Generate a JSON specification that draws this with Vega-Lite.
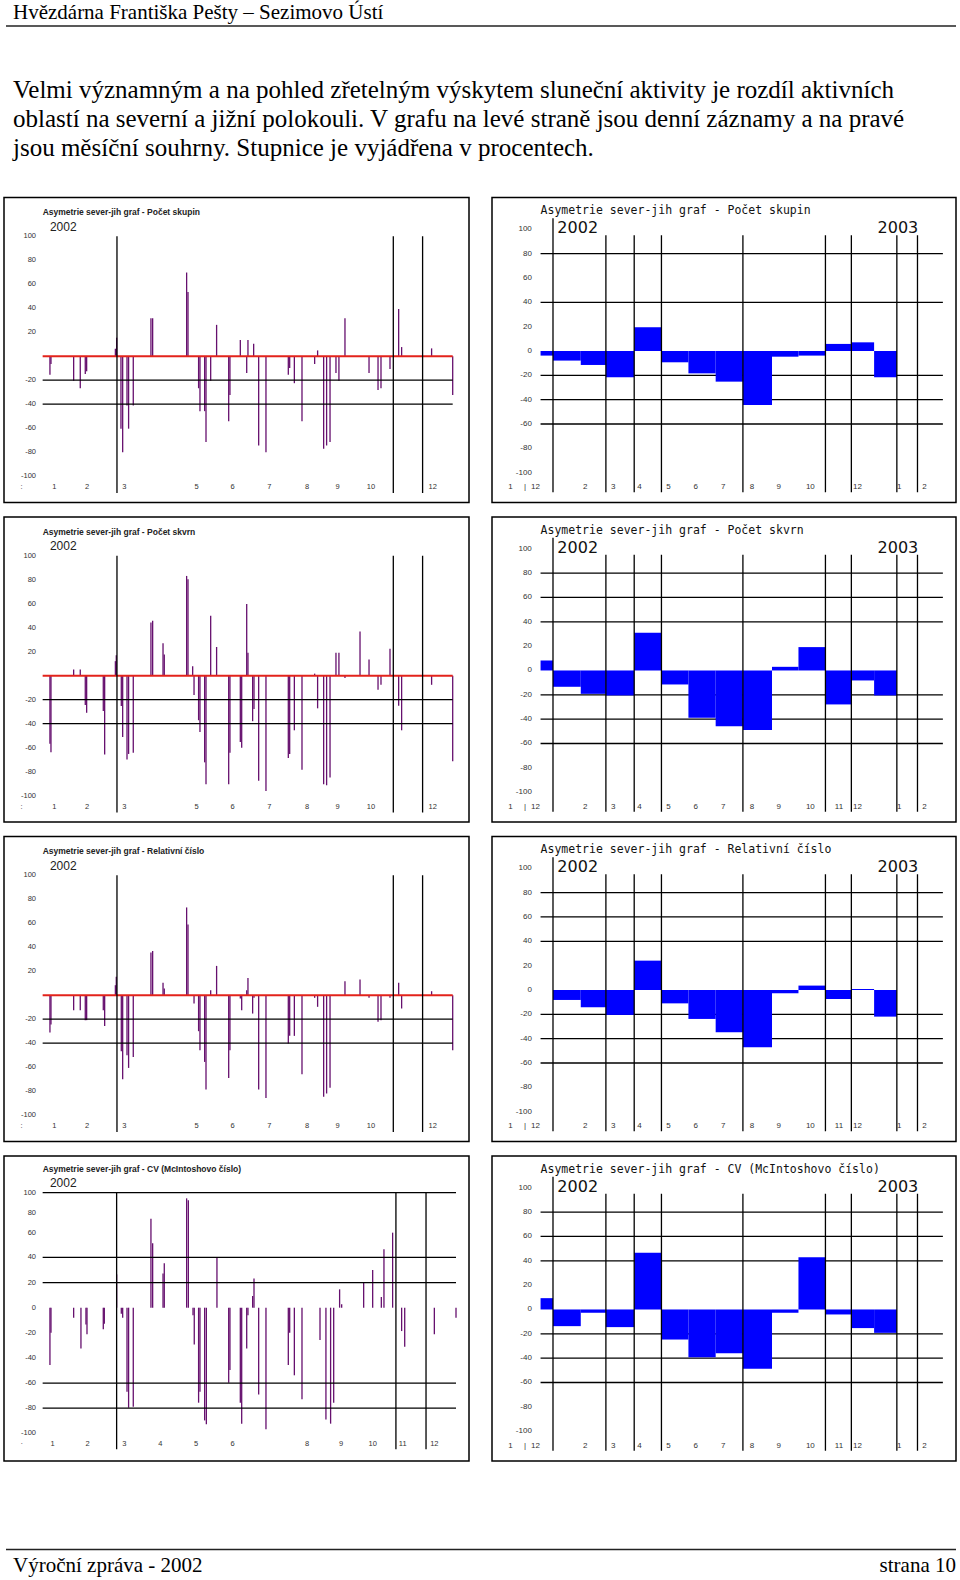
{
"$schema": "https://vega.github.io/schema/vega-lite/v6.json",
"background": "white",
"padding": {"left": 3, "top": 0, "right": 5, "bottom": 0},
"config": {"view": {"stroke": null}},
"spacing": 12.5,
"datasets": {
"L1": [{"d":6.1,"v":-15.4},{"d":7.0,"v":-6.5},{"d":26.9,"v":-20.5},{"d":32.7,"v":-26.7},{"d":37.1,"v":-14.9},{"d":38.3,"v":-12.6},{"d":63.5,"v":6.2},{"d":64.6,"v":15.4},{"d":68.4,"v":-60.4},{"d":69.9,"v":-80.1},{"d":73.7,"v":-41},{"d":75.1,"v":-60.4},{"d":79.2,"v":-41},{"d":94.7,"v":31.7},{"d":96.2,"v":31.7},{"d":126,"v":69.7},{"d":127.2,"v":53.4},{"d":136.5,"v":-26.7},{"d":137.7,"v":-45.8},{"d":141.8,"v":-45.8},{"d":143,"v":-71.6},{"d":147.1,"v":-20.5},{"d":152.3,"v":26.1},{"d":162.9,"v":-54.2},{"d":164,"v":-32.3},{"d":173.1,"v":13.5},{"d":178.7,"v":-14},{"d":179.8,"v":13.5},{"d":184.8,"v":10.4},{"d":189.2,"v":-74.4},{"d":195.6,"v":-80.1},{"d":215.2,"v":-15.4},{"d":216.4,"v":-9.8},{"d":220.5,"v":-22.5},{"d":227.2,"v":-54.2},{"d":238.3,"v":-6.5},{"d":240.9,"v":4.8},{"d":246.2,"v":-77.2},{"d":248.8,"v":-74.4},{"d":251.8,"v":-71.6},{"d":257,"v":-14},{"d":259.6,"v":-20.5},{"d":264.9,"v":31.7},{"d":286,"v":-14},{"d":293.9,"v":-28.1},{"d":296.5,"v":-26.7},{"d":304.4,"v":-10.7},{"d":312,"v":39.3},{"d":314.6,"v":7.6},{"d":340.9,"v":6.5},{"d":359.4,"v":-32.3}],
"L2": [{"d":6.1,"v":-56.7},{"d":7.0,"v":-63.8},{"d":26.9,"v":5.1},{"d":32.7,"v":5.1},{"d":37.1,"v":-24.4},{"d":38.3,"v":-30.9},{"d":52.9,"v":-29.5},{"d":54.1,"v":-65.7},{"d":63.5,"v":12.1},{"d":64.3,"v":17.1},{"d":68.7,"v":-25.3},{"d":69.9,"v":-51.1},{"d":73.7,"v":-69.9},{"d":75.1,"v":-65.2},{"d":79.2,"v":-64.3},{"d":94.7,"v":44.4},{"d":96.2,"v":45.8},{"d":105.3,"v":27.0},{"d":106.4,"v":17.7},{"d":126,"v":83.1},{"d":127.2,"v":80.3},{"d":131.3,"v":7.9},{"d":132.5,"v":-16.0},{"d":136.5,"v":-37.1},{"d":137.7,"v":-46.9},{"d":141.8,"v":-72.2},{"d":143,"v":-90.4},{"d":147.1,"v":50.0},{"d":152.3,"v":23.9},{"d":162.9,"v":-90.4},{"d":164,"v":-64.3},{"d":173.1,"v":-55.3},{"d":174.3,"v":-60.1},{"d":178.7,"v":59.8},{"d":179.8,"v":19.1},{"d":183.9,"v":-37.9},{"d":185.1,"v":-27.8},{"d":189.2,"v":-87.6},{"d":195.6,"v":-96.1},{"d":215.2,"v":-68.5},{"d":216.4,"v":-65.2},{"d":220.5,"v":-45.5},{"d":227.2,"v":-78.4},{"d":238.3,"v":1.7},{"d":240.9,"v":-27.2},{"d":246.2,"v":-90.4},{"d":248.8,"v":-91.3},{"d":251.8,"v":-84.8},{"d":257,"v":19.1},{"d":259.6,"v":19.1},{"d":264.9,"v":-2.0},{"d":278.1,"v":36.8},{"d":286,"v":13.5},{"d":293.9,"v":-11.8},{"d":296.5,"v":-7.6},{"d":304.4,"v":22.5},{"d":312,"v":-25.0},{"d":314.6,"v":-45.5},{"d":340.9,"v":-7.6},{"d":359.4,"v":-71.3}],
"L3": [{"d":6.1,"v":-31.1},{"d":7.0,"v":-24.4},{"d":26.9,"v":-12.5},{"d":32.7,"v":-12.5},{"d":37.1,"v":-20.8},{"d":38.3,"v":-20.8},{"d":52.9,"v":-12.5},{"d":54.1,"v":-25.6},{"d":63.5,"v":8.3},{"d":64.3,"v":15.3},{"d":68.7,"v":-46.7},{"d":69.9,"v":-70},{"d":73.7,"v":-50},{"d":75.1,"v":-60.6},{"d":79.2,"v":-51.4},{"d":94.7,"v":35.6},{"d":96.2,"v":36.9},{"d":105.3,"v":10.3},{"d":106.4,"v":5.6},{"d":126,"v":73.1},{"d":127.2,"v":58.9},{"d":132.5,"v":-6.9},{"d":136.5,"v":-30},{"d":137.7,"v":-45.8},{"d":141.8,"v":-55.6},{"d":143,"v":-78.6},{"d":147.1,"v":4.2},{"d":152.3,"v":24.4},{"d":162.9,"v":-68.9},{"d":164,"v":-45.8},{"d":173.1,"v":-2.8},{"d":174.3,"v":-12.5},{"d":178.7,"v":4.2},{"d":179.8,"v":14.4},{"d":183.9,"v":-15.3},{"d":185.1,"v":-2.2},{"d":189.2,"v":-78.6},{"d":195.6,"v":-85.6},{"d":215.2,"v":-40.3},{"d":216.4,"v":-33.9},{"d":220.5,"v":-33.9},{"d":227.2,"v":-65.8},{"d":238.3,"v":-2.2},{"d":240.9,"v":-9.7},{"d":246.2,"v":-84.7},{"d":248.8,"v":-81.9},{"d":251.8,"v":-77.2},{"d":264.9,"v":11.7},{"d":278.1,"v":13.1},{"d":286,"v":-2.2},{"d":293.9,"v":-22.2},{"d":296.5,"v":-20.8},{"d":304.4,"v":-2.2},{"d":312,"v":10.3},{"d":314.6,"v":-11.1},{"d":340.9,"v":3.3},{"d":359.4,"v":-45.8}],
"L4": [{"d":6.1,"v":-45.6},{"d":7.0,"v":-19.9},{"d":26.9,"v":-8.0},{"d":33.3,"v":-32.4},{"d":37.7,"v":-13.3},{"d":38.6,"v":-21.2},{"d":52.9,"v":-17.2},{"d":53.8,"v":-12.7},{"d":64.6,"v":26.5},{"d":68.7,"v":-4.8},{"d":69.9,"v":-8.0},{"d":73.7,"v":-66.8},{"d":75.1,"v":-79.6},{"d":79.2,"v":-78.8},{"d":94.7,"v":70.8},{"d":96.2,"v":51.2},{"d":105.3,"v":27.3},{"d":106.4,"v":35.3},{"d":126,"v":87.0},{"d":127.5,"v":85.4},{"d":131.6,"v":-6.1},{"d":132.7,"v":-29.2},{"d":136.5,"v":-75.6},{"d":137.7,"v":-66.8},{"d":141.8,"v":-89.7},{"d":143.3,"v":-92.8},{"d":152.6,"v":39.8},{"d":162.9,"v":-59.7},{"d":164,"v":-49.6},{"d":173.1,"v":-75.6},{"d":174.3,"v":-92.3},{"d":178.7,"v":-32.4},{"d":179.8,"v":-6.1},{"d":183.9,"v":9.3},{"d":185.1,"v":23.3},{"d":189.2,"v":-69},{"d":195.6,"v":-96.8},{"d":215.2,"v":-45.6},{"d":216.4,"v":-19.9},{"d":220.5,"v":-53.8},{"d":227.2,"v":-72.9},{"d":243,"v":-25.7},{"d":248.2,"v":-88.9},{"d":252.3,"v":-92.3},{"d":255,"v":-75.6},{"d":260.2,"v":14.6},{"d":262,"v":2.7},{"d":281.3,"v":19.9},{"d":289.2,"v":30.0},{"d":296.8,"v":8.5},{"d":299.1,"v":46.4},{"d":306.7,"v":59.7},{"d":314.6,"v":-18.6},{"d":317.3,"v":-31.0},{"d":343.3,"v":-21.2},{"d":362.3,"v":-8.0}],
"R1": [{"m":"2001-12","start":-0.47,"end":0,"v":-3.8},{"m":"2002-01","start":0,"end":1.05,"v":-7.9},{"m":"2002-02","start":1.05,"end":2.0,"v":-11.5},{"m":"2002-03","start":2.0,"end":3.07,"v":-21.6},{"m":"2002-04","start":3.07,"end":4.12,"v":19.5},{"m":"2002-05","start":4.12,"end":5.12,"v":-9.3},{"m":"2002-06","start":5.12,"end":6.15,"v":-18.4},{"m":"2002-07","start":6.15,"end":7.18,"v":-25.2},{"m":"2002-08","start":7.18,"end":8.28,"v":-44.4},{"m":"2002-09","start":8.28,"end":9.28,"v":-4.7},{"m":"2002-10","start":9.28,"end":10.3,"v":-3.8},{"m":"2002-11","start":10.3,"end":11.3,"v":5.8},{"m":"2002-12","start":11.3,"end":12.14,"v":7.1},{"m":"2003-01","start":12.14,"end":13.0,"v":-21.6}],
"R2": [{"m":"2001-12","start":-0.47,"end":0,"v":8.2},{"m":"2002-01","start":0,"end":1.05,"v":-13.4},{"m":"2002-02","start":1.05,"end":2.0,"v":-19.2},{"m":"2002-03","start":2.0,"end":3.07,"v":-20.5},{"m":"2002-04","start":3.07,"end":4.12,"v":31.0},{"m":"2002-05","start":4.12,"end":5.12,"v":-11.5},{"m":"2002-06","start":5.12,"end":6.15,"v":-38.9},{"m":"2002-07","start":6.15,"end":7.18,"v":-45.8},{"m":"2002-08","start":7.18,"end":8.28,"v":-49.0},{"m":"2002-09","start":8.28,"end":9.28,"v":3.0},{"m":"2002-10","start":9.28,"end":10.3,"v":19.2},{"m":"2002-11","start":10.3,"end":11.3,"v":-27.9},{"m":"2002-12","start":11.3,"end":12.14,"v":-8.2},{"m":"2003-01","start":12.14,"end":13.0,"v":-20.5}],
"R3": [{"m":"2001-12","start":-0.47,"end":0,"v":0},{"m":"2002-01","start":0,"end":1.05,"v":-8.2},{"m":"2002-02","start":1.05,"end":2.0,"v":-14.2},{"m":"2002-03","start":2.0,"end":3.07,"v":-20.5},{"m":"2002-04","start":3.07,"end":4.12,"v":24.1},{"m":"2002-05","start":4.12,"end":5.12,"v":-11.0},{"m":"2002-06","start":5.12,"end":6.15,"v":-23.8},{"m":"2002-07","start":6.15,"end":7.18,"v":-34.8},{"m":"2002-08","start":7.18,"end":8.28,"v":-47.1},{"m":"2002-09","start":8.28,"end":9.28,"v":-2.7},{"m":"2002-10","start":9.28,"end":10.3,"v":3.6},{"m":"2002-11","start":10.3,"end":11.3,"v":-7.4},{"m":"2002-12","start":11.3,"end":12.14,"v":0.8},{"m":"2003-01","start":12.14,"end":13.0,"v":-21.9}],
"R4": [{"m":"2001-12","start":-0.47,"end":0,"v":9.3},{"m":"2002-01","start":0,"end":1.05,"v":-13.7},{"m":"2002-02","start":1.05,"end":2.0,"v":-2.7},{"m":"2002-03","start":2.0,"end":3.07,"v":-14.5},{"m":"2002-04","start":3.07,"end":4.12,"v":46.6},{"m":"2002-05","start":4.12,"end":5.12,"v":-24.7},{"m":"2002-06","start":5.12,"end":6.15,"v":-39.2},{"m":"2002-07","start":6.15,"end":7.18,"v":-35.9},{"m":"2002-08","start":7.18,"end":8.28,"v":-48.8},{"m":"2002-09","start":8.28,"end":9.28,"v":-2.7},{"m":"2002-10","start":9.28,"end":10.3,"v":43.0},{"m":"2002-11","start":10.3,"end":11.3,"v":-4.1},{"m":"2002-12","start":11.3,"end":12.14,"v":-15.3},{"m":"2003-01","start":12.14,"end":13.0,"v":-19.2}],
"gridL": [{"v":-20},{"v":-40}],
"gridL4": [{"v":91.5},{"v":40},{"v":20},{"v":-60},{"v":-80}],
"vlinesL": [{"d":64.9},{"d":307.3},{"d":333.0}],
"vlinesL4": [{"d":64.6},{"d":309.6},{"d":336.0}],
"ylabL": [{"v":100,"label":"100"},{"v":80,"label":"80"},{"v":60,"label":"60"},{"v":40,"label":"40"},{"v":20,"label":"20"},{"v":-20,"label":"-20"},{"v":-40,"label":"-40"},{"v":-60,"label":"-60"},{"v":-80,"label":"-80"},{"v":-100,"label":"-100"}],
"ylabL4": [{"v":91.5,"label":"100"},{"v":75.6,"label":"80"},{"v":59.7,"label":"60"},{"v":40,"label":"40"},{"v":20,"label":"20"},{"v":0,"label":"0"},{"v":-20,"label":"-20"},{"v":-40,"label":"-40"},{"v":-60,"label":"-60"},{"v":-80,"label":"-80"},{"v":-100,"label":"-100"}],
"xlabL": [{"d":-18.7,"label":":"},{"d":9.9,"label":"1"},{"d":38.6,"label":"2"},{"d":71.3,"label":"3"},{"d":134.8,"label":"5"},{"d":166.4,"label":"6"},{"d":198.5,"label":"7"},{"d":231.6,"label":"8"},{"d":258.5,"label":"9"},{"d":287.7,"label":"10"},{"d":341.8,"label":"12"}],
"xlabL4": [{"d":-18.7,"label":"·"},{"d":8.5,"label":"1"},{"d":39.2,"label":"2"},{"d":71.3,"label":"3"},{"d":102.9,"label":"4"},{"d":134.2,"label":"5"},{"d":166.4,"label":"6"},{"d":231.6,"label":"8"},{"d":261.4,"label":"9"},{"d":289.2,"label":"10"},{"d":315.5,"label":"11"},{"d":343.3,"label":"12"}],
"gridR1": [{"v":80},{"v":40},{"v":-20},{"v":-40},{"v":-60}],
"gridR": [{"v":80},{"v":60},{"v":40},{"v":-20},{"v":-40},{"v":-60}],
"vlinesR": [{"t":2.0},{"t":3.07},{"t":4.1},{"t":7.18},{"t":10.3},{"t":11.28},{"t":13.0},{"t":13.78}],
"ylabR": [{"v":100,"label":"100"},{"v":80,"label":"80"},{"v":60,"label":"60"},{"v":40,"label":"40"},{"v":20,"label":"20"},{"v":0,"label":"0"},{"v":-20,"label":"-20"},{"v":-40,"label":"-40"},{"v":-60,"label":"-60"},{"v":-80,"label":"-80"},{"v":-100,"label":"-100"}],
"xlabR1": [{"t":-1.61,"label":"1"},{"t":-1.06,"label":"|"},{"t":-0.66,"label":"12"},{"t":1.22,"label":"2"},{"t":2.28,"label":"3"},{"t":3.27,"label":"4"},{"t":4.37,"label":"5"},{"t":5.4,"label":"6"},{"t":6.44,"label":"7"},{"t":7.52,"label":"8"},{"t":8.53,"label":"9"},{"t":9.73,"label":"10"},{"t":11.51,"label":"12"},{"t":13.09,"label":"1"},{"t":14.04,"label":"2"}],
"xlabR": [{"t":-1.61,"label":"1"},{"t":-1.06,"label":"|"},{"t":-0.66,"label":"12"},{"t":1.22,"label":"2"},{"t":2.28,"label":"3"},{"t":3.27,"label":"4"},{"t":4.37,"label":"5"},{"t":5.4,"label":"6"},{"t":6.44,"label":"7"},{"t":7.52,"label":"8"},{"t":8.53,"label":"9"},{"t":9.73,"label":"10"},{"t":10.81,"label":"11"},{"t":11.51,"label":"12"},{"t":13.09,"label":"1"},{"t":14.04,"label":"2"}],
"yearsR": [{"t":0.165,"year":"2002"},{"t":12.27,"year":"2003"}]
},
"vconcat": [
{"width": 952, "height": 184,
 "layer": [
  {"data": {"values": [{"text": "Hvězdárna Františka Pešty – Sezimovo Ústí"}]},
   "mark": {"type": "text", "align": "left", "baseline": "alphabetic", "font": "Liberation Serif", "fontSize": 21, "color": "#000"},
   "encoding": {"x": {"datum": 9, "type": "quantitative", "scale": {"domain": [0, 952], "nice": false, "zero": false}, "axis": null},
                "y": {"datum": 19, "type": "quantitative", "scale": {"domain": [0, 184], "reverse": true, "nice": false, "zero": false}, "axis": null},
                "text": {"field": "text", "type": "nominal"}}},
  {"data": {"values": [{"k": 0}]},
   "mark": {"type": "rule", "color": "#222", "strokeWidth": 1.3},
   "encoding": {"x": {"datum": 2, "type": "quantitative", "scale": {"domain": [0, 952], "nice": false, "zero": false}, "axis": null},
                "x2": {"datum": 952},
                "y": {"datum": 26, "type": "quantitative", "scale": {"domain": [0, 184], "reverse": true, "nice": false, "zero": false}, "axis": null}}},
  {"data": {"values": [{"text": "Velmi významným a na pohled zřetelným výskytem sluneční aktivity je rozdíl aktivních"}]},
   "mark": {"type": "text", "align": "left", "baseline": "alphabetic", "font": "Liberation Serif", "fontSize": 25, "color": "#000"},
   "encoding": {"x": {"datum": 9, "type": "quantitative", "scale": {"domain": [0, 952], "nice": false, "zero": false}, "axis": null},
                "y": {"datum": 97.5, "type": "quantitative", "scale": {"domain": [0, 184], "reverse": true, "nice": false, "zero": false}, "axis": null},
                "text": {"field": "text", "type": "nominal"}}},
  {"data": {"values": [{"text": "oblastí na severní a jižní polokouli. V grafu na levé straně jsou denní záznamy a na pravé"}]},
   "mark": {"type": "text", "align": "left", "baseline": "alphabetic", "font": "Liberation Serif", "fontSize": 25, "color": "#000"},
   "encoding": {"x": {"datum": 9, "type": "quantitative", "scale": {"domain": [0, 952], "nice": false, "zero": false}, "axis": null},
                "y": {"datum": 126.5, "type": "quantitative", "scale": {"domain": [0, 184], "reverse": true, "nice": false, "zero": false}, "axis": null},
                "text": {"field": "text", "type": "nominal"}}},
  {"data": {"values": [{"text": "jsou měsíční souhrny. Stupnice je vyjádřena v procentech."}]},
   "mark": {"type": "text", "align": "left", "baseline": "alphabetic", "font": "Liberation Serif", "fontSize": 25, "color": "#000"},
   "encoding": {"x": {"datum": 9, "type": "quantitative", "scale": {"domain": [0, 952], "nice": false, "zero": false}, "axis": null},
                "y": {"datum": 155.5, "type": "quantitative", "scale": {"domain": [0, 184], "reverse": true, "nice": false, "zero": false}, "axis": null},
                "text": {"field": "text", "type": "nominal"}}}
 ]},
{"hconcat": [
 {"width": 465, "height": 305, "view": {"stroke": "#000", "strokeWidth": 1.5, "fill": "#fff"},
  "layer": [
   {"data": {"name": "L1"}, "mark": {"type": "rule", "color": "#66106e", "strokeWidth": 1.3},
    "encoding": {"x": {"field": "d", "type": "quantitative", "scale": {"domain": [-34.2, 373.7], "nice": false, "zero": false}, "axis": null},
                 "y": {"field": "v", "type": "quantitative", "scale": {"domain": [-121.9, 132.2], "nice": false, "zero": false}, "axis": null},
                 "y2": {"datum": 0}}},
   {"data": {"name": "gridL"}, "mark": {"type": "rule", "color": "#000", "strokeWidth": 1.3},
    "encoding": {"y": {"field": "v", "type": "quantitative", "scale": {"domain": [-121.9, 132.2], "nice": false, "zero": false}, "axis": null},
                 "x": {"datum": -0.3, "type": "quantitative", "scale": {"domain": [-34.2, 373.7], "nice": false, "zero": false}, "axis": null},
                 "x2": {"datum": 359.4}}},
   {"data": {"values": [{"v": 0}]}, "mark": {"type": "rule", "color": "#e3231b", "strokeWidth": 2},
    "encoding": {"y": {"field": "v", "type": "quantitative", "scale": {"domain": [-121.9, 132.2], "nice": false, "zero": false}, "axis": null},
                 "x": {"datum": -0.3, "type": "quantitative", "scale": {"domain": [-34.2, 373.7], "nice": false, "zero": false}, "axis": null},
                 "x2": {"datum": 359.4}}},
   {"data": {"name": "vlinesL"}, "mark": {"type": "rule", "color": "#000", "strokeWidth": 1.3},
    "encoding": {"x": {"field": "d", "type": "quantitative", "scale": {"domain": [-34.2, 373.7], "nice": false, "zero": false}, "axis": null},
                 "y": {"datum": 100, "type": "quantitative", "scale": {"domain": [-121.9, 132.2], "nice": false, "zero": false}, "axis": null},
                 "y2": {"datum": -113.9}}},
   {"data": {"name": "ylabL"}, "mark": {"type": "text", "align": "right", "baseline": "middle", "font": "Liberation Sans", "fontSize": 7.5, "color": "#333"},
    "encoding": {"x": {"datum": -6.1, "type": "quantitative", "scale": {"domain": [-34.2, 373.7], "nice": false, "zero": false}, "axis": null},
                 "y": {"field": "v", "type": "quantitative", "scale": {"domain": [-121.9, 132.2], "nice": false, "zero": false}, "axis": null},
                 "text": {"field": "label", "type": "nominal"}}},
   {"data": {"name": "xlabL"}, "mark": {"type": "text", "align": "center", "baseline": "middle", "font": "Liberation Sans", "fontSize": 7.5, "color": "#333"},
    "encoding": {"x": {"field": "d", "type": "quantitative", "scale": {"domain": [-34.2, 373.7], "nice": false, "zero": false}, "axis": null},
                 "y": {"datum": -109.2, "type": "quantitative", "scale": {"domain": [-121.9, 132.2], "nice": false, "zero": false}, "axis": null},
                 "text": {"field": "label", "type": "nominal"}}},
   {"data": {"values": [{"title": "Asymetrie sever-jih graf - Počet skupin"}]}, "mark": {"type": "text", "align": "left", "baseline": "middle", "font": "Liberation Sans", "fontSize": 8.5, "fontWeight": "bold", "color": "#222"},
    "encoding": {"x": {"datum": -0.3, "type": "quantitative", "scale": {"domain": [-34.2, 373.7], "nice": false, "zero": false}, "axis": null},
                 "y": {"datum": 120, "type": "quantitative", "scale": {"domain": [-121.9, 132.2], "nice": false, "zero": false}, "axis": null},
                 "text": {"field": "title", "type": "nominal"}}},
   {"data": {"values": [{"year": "2002"}]}, "mark": {"type": "text", "align": "left", "baseline": "middle", "font": "Liberation Sans", "fontSize": 12, "color": "#222"},
    "encoding": {"x": {"datum": 6.1, "type": "quantitative", "scale": {"domain": [-34.2, 373.7], "nice": false, "zero": false}, "axis": null},
                 "y": {"datum": 108, "type": "quantitative", "scale": {"domain": [-121.9, 132.2], "nice": false, "zero": false}, "axis": null},
                 "text": {"field": "year", "type": "nominal"}}}
  ]},
 {"width": 464, "height": 305, "view": {"stroke": "#000", "strokeWidth": 1.5, "fill": "#fff"},
  "layer": [
   {"data": {"name": "gridR1"}, "mark": {"type": "rule", "color": "#000", "strokeWidth": 1.3},
    "encoding": {"y": {"field": "v", "type": "quantitative", "scale": {"domain": [-124.5, 126.1], "nice": false, "zero": false}, "axis": null},
                 "x": {"datum": -0.47, "type": "quantitative", "scale": {"domain": [-2.306, 15.236], "nice": false, "zero": false}, "axis": null},
                 "x2": {"datum": 14.74}}},
   {"data": {"name": "R1"}, "mark": {"type": "rect", "color": "#0000ff"},
    "encoding": {"x": {"field": "start", "type": "quantitative", "scale": {"domain": [-2.306, 15.236], "nice": false, "zero": false}, "axis": null},
                 "x2": {"field": "end"},
                 "y": {"field": "v", "type": "quantitative", "scale": {"domain": [-124.5, 126.1], "nice": false, "zero": false}, "axis": null},
                 "y2": {"datum": 0}}},
   {"data": {"values": [{"t": 0}]}, "mark": {"type": "rule", "color": "#000", "strokeWidth": 1.3},
    "encoding": {"x": {"field": "t", "type": "quantitative", "scale": {"domain": [-2.306, 15.236], "nice": false, "zero": false}, "axis": null},
                 "y": {"datum": 109, "type": "quantitative", "scale": {"domain": [-124.5, 126.1], "nice": false, "zero": false}, "axis": null},
                 "y2": {"datum": -116}}},
   {"data": {"name": "vlinesR"}, "mark": {"type": "rule", "color": "#000", "strokeWidth": 1.3},
    "encoding": {"x": {"field": "t", "type": "quantitative", "scale": {"domain": [-2.306, 15.236], "nice": false, "zero": false}, "axis": null},
                 "y": {"datum": 95, "type": "quantitative", "scale": {"domain": [-124.5, 126.1], "nice": false, "zero": false}, "axis": null},
                 "y2": {"datum": -116}}},
   {"data": {"name": "ylabR"}, "mark": {"type": "text", "align": "right", "baseline": "middle", "font": "Liberation Sans", "fontSize": 8, "color": "#333"},
    "encoding": {"x": {"datum": -0.8, "type": "quantitative", "scale": {"domain": [-2.306, 15.236], "nice": false, "zero": false}, "axis": null},
                 "y": {"field": "v", "type": "quantitative", "scale": {"domain": [-124.5, 126.1], "nice": false, "zero": false}, "axis": null},
                 "text": {"field": "label", "type": "nominal"}}},
   {"data": {"name": "xlabR1"}, "mark": {"type": "text", "align": "center", "baseline": "middle", "font": "Liberation Sans", "fontSize": 8, "color": "#333"},
    "encoding": {"x": {"field": "t", "type": "quantitative", "scale": {"domain": [-2.306, 15.236], "nice": false, "zero": false}, "axis": null},
                 "y": {"datum": -112, "type": "quantitative", "scale": {"domain": [-124.5, 126.1], "nice": false, "zero": false}, "axis": null},
                 "text": {"field": "label", "type": "nominal"}}},
   {"data": {"values": [{"title": "Asymetrie sever-jih graf - Počet skupin"}]}, "mark": {"type": "text", "align": "left", "baseline": "middle", "font": "DejaVu Sans Mono", "fontSize": 11.5, "color": "#111"},
    "encoding": {"x": {"datum": -0.47, "type": "quantitative", "scale": {"domain": [-2.306, 15.236], "nice": false, "zero": false}, "axis": null},
                 "y": {"datum": 115, "type": "quantitative", "scale": {"domain": [-124.5, 126.1], "nice": false, "zero": false}, "axis": null},
                 "text": {"field": "title", "type": "nominal"}}},
   {"data": {"name": "yearsR"}, "mark": {"type": "text", "align": "left", "baseline": "middle", "font": "DejaVu Sans", "fontSize": 16, "color": "#111"},
    "encoding": {"x": {"field": "t", "type": "quantitative", "scale": {"domain": [-2.306, 15.236], "nice": false, "zero": false}, "axis": null},
                 "y": {"datum": 101, "type": "quantitative", "scale": {"domain": [-124.5, 126.1], "nice": false, "zero": false}, "axis": null},
                 "text": {"field": "year", "type": "nominal"}}}
  ]}
 ], "spacing": 23, "bounds": "flush"},
{"hconcat": [
 {"width": 465, "height": 305, "view": {"stroke": "#000", "strokeWidth": 1.5, "fill": "#fff"},
  "layer": [
   {"data": {"name": "L2"}, "mark": {"type": "rule", "color": "#66106e", "strokeWidth": 1.3},
    "encoding": {"x": {"field": "d", "type": "quantitative", "scale": {"domain": [-34.2, 373.7], "nice": false, "zero": false}, "axis": null},
                 "y": {"field": "v", "type": "quantitative", "scale": {"domain": [-121.9, 132.2], "nice": false, "zero": false}, "axis": null},
                 "y2": {"datum": 0}}},
   {"data": {"name": "gridL"}, "mark": {"type": "rule", "color": "#000", "strokeWidth": 1.3},
    "encoding": {"y": {"field": "v", "type": "quantitative", "scale": {"domain": [-121.9, 132.2], "nice": false, "zero": false}, "axis": null},
                 "x": {"datum": -0.3, "type": "quantitative", "scale": {"domain": [-34.2, 373.7], "nice": false, "zero": false}, "axis": null},
                 "x2": {"datum": 359.4}}},
   {"data": {"values": [{"v": 0}]}, "mark": {"type": "rule", "color": "#e3231b", "strokeWidth": 2},
    "encoding": {"y": {"field": "v", "type": "quantitative", "scale": {"domain": [-121.9, 132.2], "nice": false, "zero": false}, "axis": null},
                 "x": {"datum": -0.3, "type": "quantitative", "scale": {"domain": [-34.2, 373.7], "nice": false, "zero": false}, "axis": null},
                 "x2": {"datum": 359.4}}},
   {"data": {"name": "vlinesL"}, "mark": {"type": "rule", "color": "#000", "strokeWidth": 1.3},
    "encoding": {"x": {"field": "d", "type": "quantitative", "scale": {"domain": [-34.2, 373.7], "nice": false, "zero": false}, "axis": null},
                 "y": {"datum": 100, "type": "quantitative", "scale": {"domain": [-121.9, 132.2], "nice": false, "zero": false}, "axis": null},
                 "y2": {"datum": -113.9}}},
   {"data": {"name": "ylabL"}, "mark": {"type": "text", "align": "right", "baseline": "middle", "font": "Liberation Sans", "fontSize": 7.5, "color": "#333"},
    "encoding": {"x": {"datum": -6.1, "type": "quantitative", "scale": {"domain": [-34.2, 373.7], "nice": false, "zero": false}, "axis": null},
                 "y": {"field": "v", "type": "quantitative", "scale": {"domain": [-121.9, 132.2], "nice": false, "zero": false}, "axis": null},
                 "text": {"field": "label", "type": "nominal"}}},
   {"data": {"name": "xlabL"}, "mark": {"type": "text", "align": "center", "baseline": "middle", "font": "Liberation Sans", "fontSize": 7.5, "color": "#333"},
    "encoding": {"x": {"field": "d", "type": "quantitative", "scale": {"domain": [-34.2, 373.7], "nice": false, "zero": false}, "axis": null},
                 "y": {"datum": -109.2, "type": "quantitative", "scale": {"domain": [-121.9, 132.2], "nice": false, "zero": false}, "axis": null},
                 "text": {"field": "label", "type": "nominal"}}},
   {"data": {"values": [{"title": "Asymetrie sever-jih graf - Počet skvrn"}]}, "mark": {"type": "text", "align": "left", "baseline": "middle", "font": "Liberation Sans", "fontSize": 8.5, "fontWeight": "bold", "color": "#222"},
    "encoding": {"x": {"datum": -0.3, "type": "quantitative", "scale": {"domain": [-34.2, 373.7], "nice": false, "zero": false}, "axis": null},
                 "y": {"datum": 120, "type": "quantitative", "scale": {"domain": [-121.9, 132.2], "nice": false, "zero": false}, "axis": null},
                 "text": {"field": "title", "type": "nominal"}}},
   {"data": {"values": [{"year": "2002"}]}, "mark": {"type": "text", "align": "left", "baseline": "middle", "font": "Liberation Sans", "fontSize": 12, "color": "#222"},
    "encoding": {"x": {"datum": 6.1, "type": "quantitative", "scale": {"domain": [-34.2, 373.7], "nice": false, "zero": false}, "axis": null},
                 "y": {"datum": 108, "type": "quantitative", "scale": {"domain": [-121.9, 132.2], "nice": false, "zero": false}, "axis": null},
                 "text": {"field": "year", "type": "nominal"}}}
  ]},
 {"width": 464, "height": 305, "view": {"stroke": "#000", "strokeWidth": 1.5, "fill": "#fff"},
  "layer": [
   {"data": {"name": "gridR"}, "mark": {"type": "rule", "color": "#000", "strokeWidth": 1.3},
    "encoding": {"y": {"field": "v", "type": "quantitative", "scale": {"domain": [-124.5, 126.1], "nice": false, "zero": false}, "axis": null},
                 "x": {"datum": -0.47, "type": "quantitative", "scale": {"domain": [-2.306, 15.236], "nice": false, "zero": false}, "axis": null},
                 "x2": {"datum": 14.74}}},
   {"data": {"name": "R2"}, "mark": {"type": "rect", "color": "#0000ff"},
    "encoding": {"x": {"field": "start", "type": "quantitative", "scale": {"domain": [-2.306, 15.236], "nice": false, "zero": false}, "axis": null},
                 "x2": {"field": "end"},
                 "y": {"field": "v", "type": "quantitative", "scale": {"domain": [-124.5, 126.1], "nice": false, "zero": false}, "axis": null},
                 "y2": {"datum": 0}}},
   {"data": {"values": [{"t": 0}]}, "mark": {"type": "rule", "color": "#000", "strokeWidth": 1.3},
    "encoding": {"x": {"field": "t", "type": "quantitative", "scale": {"domain": [-2.306, 15.236], "nice": false, "zero": false}, "axis": null},
                 "y": {"datum": 109, "type": "quantitative", "scale": {"domain": [-124.5, 126.1], "nice": false, "zero": false}, "axis": null},
                 "y2": {"datum": -116}}},
   {"data": {"name": "vlinesR"}, "mark": {"type": "rule", "color": "#000", "strokeWidth": 1.3},
    "encoding": {"x": {"field": "t", "type": "quantitative", "scale": {"domain": [-2.306, 15.236], "nice": false, "zero": false}, "axis": null},
                 "y": {"datum": 95, "type": "quantitative", "scale": {"domain": [-124.5, 126.1], "nice": false, "zero": false}, "axis": null},
                 "y2": {"datum": -116}}},
   {"data": {"name": "ylabR"}, "mark": {"type": "text", "align": "right", "baseline": "middle", "font": "Liberation Sans", "fontSize": 8, "color": "#333"},
    "encoding": {"x": {"datum": -0.8, "type": "quantitative", "scale": {"domain": [-2.306, 15.236], "nice": false, "zero": false}, "axis": null},
                 "y": {"field": "v", "type": "quantitative", "scale": {"domain": [-124.5, 126.1], "nice": false, "zero": false}, "axis": null},
                 "text": {"field": "label", "type": "nominal"}}},
   {"data": {"name": "xlabR"}, "mark": {"type": "text", "align": "center", "baseline": "middle", "font": "Liberation Sans", "fontSize": 8, "color": "#333"},
    "encoding": {"x": {"field": "t", "type": "quantitative", "scale": {"domain": [-2.306, 15.236], "nice": false, "zero": false}, "axis": null},
                 "y": {"datum": -112, "type": "quantitative", "scale": {"domain": [-124.5, 126.1], "nice": false, "zero": false}, "axis": null},
                 "text": {"field": "label", "type": "nominal"}}},
   {"data": {"values": [{"title": "Asymetrie sever-jih graf - Počet skvrn"}]}, "mark": {"type": "text", "align": "left", "baseline": "middle", "font": "DejaVu Sans Mono", "fontSize": 11.5, "color": "#111"},
    "encoding": {"x": {"datum": -0.47, "type": "quantitative", "scale": {"domain": [-2.306, 15.236], "nice": false, "zero": false}, "axis": null},
                 "y": {"datum": 115, "type": "quantitative", "scale": {"domain": [-124.5, 126.1], "nice": false, "zero": false}, "axis": null},
                 "text": {"field": "title", "type": "nominal"}}},
   {"data": {"name": "yearsR"}, "mark": {"type": "text", "align": "left", "baseline": "middle", "font": "DejaVu Sans", "fontSize": 16, "color": "#111"},
    "encoding": {"x": {"field": "t", "type": "quantitative", "scale": {"domain": [-2.306, 15.236], "nice": false, "zero": false}, "axis": null},
                 "y": {"datum": 101, "type": "quantitative", "scale": {"domain": [-124.5, 126.1], "nice": false, "zero": false}, "axis": null},
                 "text": {"field": "year", "type": "nominal"}}}
  ]}
 ], "spacing": 23, "bounds": "flush"},
{"hconcat": [
 {"width": 465, "height": 305, "view": {"stroke": "#000", "strokeWidth": 1.5, "fill": "#fff"},
  "layer": [
   {"data": {"name": "L3"}, "mark": {"type": "rule", "color": "#66106e", "strokeWidth": 1.3},
    "encoding": {"x": {"field": "d", "type": "quantitative", "scale": {"domain": [-34.2, 373.7], "nice": false, "zero": false}, "axis": null},
                 "y": {"field": "v", "type": "quantitative", "scale": {"domain": [-121.9, 132.2], "nice": false, "zero": false}, "axis": null},
                 "y2": {"datum": 0}}},
   {"data": {"name": "gridL"}, "mark": {"type": "rule", "color": "#000", "strokeWidth": 1.3},
    "encoding": {"y": {"field": "v", "type": "quantitative", "scale": {"domain": [-121.9, 132.2], "nice": false, "zero": false}, "axis": null},
                 "x": {"datum": -0.3, "type": "quantitative", "scale": {"domain": [-34.2, 373.7], "nice": false, "zero": false}, "axis": null},
                 "x2": {"datum": 359.4}}},
   {"data": {"values": [{"v": 0}]}, "mark": {"type": "rule", "color": "#e3231b", "strokeWidth": 2},
    "encoding": {"y": {"field": "v", "type": "quantitative", "scale": {"domain": [-121.9, 132.2], "nice": false, "zero": false}, "axis": null},
                 "x": {"datum": -0.3, "type": "quantitative", "scale": {"domain": [-34.2, 373.7], "nice": false, "zero": false}, "axis": null},
                 "x2": {"datum": 359.4}}},
   {"data": {"name": "vlinesL"}, "mark": {"type": "rule", "color": "#000", "strokeWidth": 1.3},
    "encoding": {"x": {"field": "d", "type": "quantitative", "scale": {"domain": [-34.2, 373.7], "nice": false, "zero": false}, "axis": null},
                 "y": {"datum": 100, "type": "quantitative", "scale": {"domain": [-121.9, 132.2], "nice": false, "zero": false}, "axis": null},
                 "y2": {"datum": -113.9}}},
   {"data": {"name": "ylabL"}, "mark": {"type": "text", "align": "right", "baseline": "middle", "font": "Liberation Sans", "fontSize": 7.5, "color": "#333"},
    "encoding": {"x": {"datum": -6.1, "type": "quantitative", "scale": {"domain": [-34.2, 373.7], "nice": false, "zero": false}, "axis": null},
                 "y": {"field": "v", "type": "quantitative", "scale": {"domain": [-121.9, 132.2], "nice": false, "zero": false}, "axis": null},
                 "text": {"field": "label", "type": "nominal"}}},
   {"data": {"name": "xlabL"}, "mark": {"type": "text", "align": "center", "baseline": "middle", "font": "Liberation Sans", "fontSize": 7.5, "color": "#333"},
    "encoding": {"x": {"field": "d", "type": "quantitative", "scale": {"domain": [-34.2, 373.7], "nice": false, "zero": false}, "axis": null},
                 "y": {"datum": -109.2, "type": "quantitative", "scale": {"domain": [-121.9, 132.2], "nice": false, "zero": false}, "axis": null},
                 "text": {"field": "label", "type": "nominal"}}},
   {"data": {"values": [{"title": "Asymetrie sever-jih graf - Relativní číslo"}]}, "mark": {"type": "text", "align": "left", "baseline": "middle", "font": "Liberation Sans", "fontSize": 8.5, "fontWeight": "bold", "color": "#222"},
    "encoding": {"x": {"datum": -0.3, "type": "quantitative", "scale": {"domain": [-34.2, 373.7], "nice": false, "zero": false}, "axis": null},
                 "y": {"datum": 120, "type": "quantitative", "scale": {"domain": [-121.9, 132.2], "nice": false, "zero": false}, "axis": null},
                 "text": {"field": "title", "type": "nominal"}}},
   {"data": {"values": [{"year": "2002"}]}, "mark": {"type": "text", "align": "left", "baseline": "middle", "font": "Liberation Sans", "fontSize": 12, "color": "#222"},
    "encoding": {"x": {"datum": 6.1, "type": "quantitative", "scale": {"domain": [-34.2, 373.7], "nice": false, "zero": false}, "axis": null},
                 "y": {"datum": 108, "type": "quantitative", "scale": {"domain": [-121.9, 132.2], "nice": false, "zero": false}, "axis": null},
                 "text": {"field": "year", "type": "nominal"}}}
  ]},
 {"width": 464, "height": 305, "view": {"stroke": "#000", "strokeWidth": 1.5, "fill": "#fff"},
  "layer": [
   {"data": {"name": "gridR"}, "mark": {"type": "rule", "color": "#000", "strokeWidth": 1.3},
    "encoding": {"y": {"field": "v", "type": "quantitative", "scale": {"domain": [-124.5, 126.1], "nice": false, "zero": false}, "axis": null},
                 "x": {"datum": -0.47, "type": "quantitative", "scale": {"domain": [-2.306, 15.236], "nice": false, "zero": false}, "axis": null},
                 "x2": {"datum": 14.74}}},
   {"data": {"name": "R3"}, "mark": {"type": "rect", "color": "#0000ff"},
    "encoding": {"x": {"field": "start", "type": "quantitative", "scale": {"domain": [-2.306, 15.236], "nice": false, "zero": false}, "axis": null},
                 "x2": {"field": "end"},
                 "y": {"field": "v", "type": "quantitative", "scale": {"domain": [-124.5, 126.1], "nice": false, "zero": false}, "axis": null},
                 "y2": {"datum": 0}}},
   {"data": {"values": [{"t": 0}]}, "mark": {"type": "rule", "color": "#000", "strokeWidth": 1.3},
    "encoding": {"x": {"field": "t", "type": "quantitative", "scale": {"domain": [-2.306, 15.236], "nice": false, "zero": false}, "axis": null},
                 "y": {"datum": 109, "type": "quantitative", "scale": {"domain": [-124.5, 126.1], "nice": false, "zero": false}, "axis": null},
                 "y2": {"datum": -116}}},
   {"data": {"name": "vlinesR"}, "mark": {"type": "rule", "color": "#000", "strokeWidth": 1.3},
    "encoding": {"x": {"field": "t", "type": "quantitative", "scale": {"domain": [-2.306, 15.236], "nice": false, "zero": false}, "axis": null},
                 "y": {"datum": 95, "type": "quantitative", "scale": {"domain": [-124.5, 126.1], "nice": false, "zero": false}, "axis": null},
                 "y2": {"datum": -116}}},
   {"data": {"name": "ylabR"}, "mark": {"type": "text", "align": "right", "baseline": "middle", "font": "Liberation Sans", "fontSize": 8, "color": "#333"},
    "encoding": {"x": {"datum": -0.8, "type": "quantitative", "scale": {"domain": [-2.306, 15.236], "nice": false, "zero": false}, "axis": null},
                 "y": {"field": "v", "type": "quantitative", "scale": {"domain": [-124.5, 126.1], "nice": false, "zero": false}, "axis": null},
                 "text": {"field": "label", "type": "nominal"}}},
   {"data": {"name": "xlabR"}, "mark": {"type": "text", "align": "center", "baseline": "middle", "font": "Liberation Sans", "fontSize": 8, "color": "#333"},
    "encoding": {"x": {"field": "t", "type": "quantitative", "scale": {"domain": [-2.306, 15.236], "nice": false, "zero": false}, "axis": null},
                 "y": {"datum": -112, "type": "quantitative", "scale": {"domain": [-124.5, 126.1], "nice": false, "zero": false}, "axis": null},
                 "text": {"field": "label", "type": "nominal"}}},
   {"data": {"values": [{"title": "Asymetrie sever-jih graf - Relativní číslo"}]}, "mark": {"type": "text", "align": "left", "baseline": "middle", "font": "DejaVu Sans Mono", "fontSize": 11.5, "color": "#111"},
    "encoding": {"x": {"datum": -0.47, "type": "quantitative", "scale": {"domain": [-2.306, 15.236], "nice": false, "zero": false}, "axis": null},
                 "y": {"datum": 115, "type": "quantitative", "scale": {"domain": [-124.5, 126.1], "nice": false, "zero": false}, "axis": null},
                 "text": {"field": "title", "type": "nominal"}}},
   {"data": {"name": "yearsR"}, "mark": {"type": "text", "align": "left", "baseline": "middle", "font": "DejaVu Sans", "fontSize": 16, "color": "#111"},
    "encoding": {"x": {"field": "t", "type": "quantitative", "scale": {"domain": [-2.306, 15.236], "nice": false, "zero": false}, "axis": null},
                 "y": {"datum": 101, "type": "quantitative", "scale": {"domain": [-124.5, 126.1], "nice": false, "zero": false}, "axis": null},
                 "text": {"field": "year", "type": "nominal"}}}
  ]}
 ], "spacing": 23, "bounds": "flush"},
{"hconcat": [
 {"width": 465, "height": 305, "view": {"stroke": "#000", "strokeWidth": 1.5, "fill": "#fff"},
  "layer": [
   {"data": {"name": "L4"}, "mark": {"type": "rule", "color": "#66106e", "strokeWidth": 1.3},
    "encoding": {"x": {"field": "d", "type": "quantitative", "scale": {"domain": [-34.2, 373.7], "nice": false, "zero": false}, "axis": null},
                 "y": {"field": "v", "type": "quantitative", "scale": {"domain": [-122.0, 120.7], "nice": false, "zero": false}, "axis": null},
                 "y2": {"datum": 0}}},
   {"data": {"name": "gridL4"}, "mark": {"type": "rule", "color": "#000", "strokeWidth": 1.3},
    "encoding": {"y": {"field": "v", "type": "quantitative", "scale": {"domain": [-122.0, 120.7], "nice": false, "zero": false}, "axis": null},
                 "x": {"datum": -0.3, "type": "quantitative", "scale": {"domain": [-34.2, 373.7], "nice": false, "zero": false}, "axis": null},
                 "x2": {"datum": 362.3}}},
   {"data": {"name": "vlinesL4"}, "mark": {"type": "rule", "color": "#000", "strokeWidth": 1.3},
    "encoding": {"x": {"field": "d", "type": "quantitative", "scale": {"domain": [-34.2, 373.7], "nice": false, "zero": false}, "axis": null},
                 "y": {"datum": 91.5, "type": "quantitative", "scale": {"domain": [-122.0, 120.7], "nice": false, "zero": false}, "axis": null},
                 "y2": {"datum": -112.7}}},
   {"data": {"name": "ylabL4"}, "mark": {"type": "text", "align": "right", "baseline": "middle", "font": "Liberation Sans", "fontSize": 7.5, "color": "#333"},
    "encoding": {"x": {"datum": -6.1, "type": "quantitative", "scale": {"domain": [-34.2, 373.7], "nice": false, "zero": false}, "axis": null},
                 "y": {"field": "v", "type": "quantitative", "scale": {"domain": [-122.0, 120.7], "nice": false, "zero": false}, "axis": null},
                 "text": {"field": "label", "type": "nominal"}}},
   {"data": {"name": "xlabL4"}, "mark": {"type": "text", "align": "center", "baseline": "middle", "font": "Liberation Sans", "fontSize": 7.5, "color": "#333"},
    "encoding": {"x": {"field": "d", "type": "quantitative", "scale": {"domain": [-34.2, 373.7], "nice": false, "zero": false}, "axis": null},
                 "y": {"datum": -108.8, "type": "quantitative", "scale": {"domain": [-122.0, 120.7], "nice": false, "zero": false}, "axis": null},
                 "text": {"field": "label", "type": "nominal"}}},
   {"data": {"values": [{"title": "Asymetrie sever-jih graf - CV (McIntoshovo číslo)"}]}, "mark": {"type": "text", "align": "left", "baseline": "middle", "font": "Liberation Sans", "fontSize": 8.5, "fontWeight": "bold", "color": "#222"},
    "encoding": {"x": {"datum": -0.3, "type": "quantitative", "scale": {"domain": [-34.2, 373.7], "nice": false, "zero": false}, "axis": null},
                 "y": {"datum": 110, "type": "quantitative", "scale": {"domain": [-122.0, 120.7], "nice": false, "zero": false}, "axis": null},
                 "text": {"field": "title", "type": "nominal"}}},
   {"data": {"values": [{"year": "2002"}]}, "mark": {"type": "text", "align": "left", "baseline": "middle", "font": "Liberation Sans", "fontSize": 12, "color": "#222"},
    "encoding": {"x": {"datum": 6.1, "type": "quantitative", "scale": {"domain": [-34.2, 373.7], "nice": false, "zero": false}, "axis": null},
                 "y": {"datum": 99.5, "type": "quantitative", "scale": {"domain": [-122.0, 120.7], "nice": false, "zero": false}, "axis": null},
                 "text": {"field": "year", "type": "nominal"}}}
  ]},
 {"width": 464, "height": 305, "view": {"stroke": "#000", "strokeWidth": 1.5, "fill": "#fff"},
  "layer": [
   {"data": {"name": "gridR"}, "mark": {"type": "rule", "color": "#000", "strokeWidth": 1.3},
    "encoding": {"y": {"field": "v", "type": "quantitative", "scale": {"domain": [-124.5, 126.1], "nice": false, "zero": false}, "axis": null},
                 "x": {"datum": -0.47, "type": "quantitative", "scale": {"domain": [-2.306, 15.236], "nice": false, "zero": false}, "axis": null},
                 "x2": {"datum": 14.74}}},
   {"data": {"name": "R4"}, "mark": {"type": "rect", "color": "#0000ff"},
    "encoding": {"x": {"field": "start", "type": "quantitative", "scale": {"domain": [-2.306, 15.236], "nice": false, "zero": false}, "axis": null},
                 "x2": {"field": "end"},
                 "y": {"field": "v", "type": "quantitative", "scale": {"domain": [-124.5, 126.1], "nice": false, "zero": false}, "axis": null},
                 "y2": {"datum": 0}}},
   {"data": {"values": [{"t": 0}]}, "mark": {"type": "rule", "color": "#000", "strokeWidth": 1.3},
    "encoding": {"x": {"field": "t", "type": "quantitative", "scale": {"domain": [-2.306, 15.236], "nice": false, "zero": false}, "axis": null},
                 "y": {"datum": 109, "type": "quantitative", "scale": {"domain": [-124.5, 126.1], "nice": false, "zero": false}, "axis": null},
                 "y2": {"datum": -116}}},
   {"data": {"name": "vlinesR"}, "mark": {"type": "rule", "color": "#000", "strokeWidth": 1.3},
    "encoding": {"x": {"field": "t", "type": "quantitative", "scale": {"domain": [-2.306, 15.236], "nice": false, "zero": false}, "axis": null},
                 "y": {"datum": 95, "type": "quantitative", "scale": {"domain": [-124.5, 126.1], "nice": false, "zero": false}, "axis": null},
                 "y2": {"datum": -116}}},
   {"data": {"name": "ylabR"}, "mark": {"type": "text", "align": "right", "baseline": "middle", "font": "Liberation Sans", "fontSize": 8, "color": "#333"},
    "encoding": {"x": {"datum": -0.8, "type": "quantitative", "scale": {"domain": [-2.306, 15.236], "nice": false, "zero": false}, "axis": null},
                 "y": {"field": "v", "type": "quantitative", "scale": {"domain": [-124.5, 126.1], "nice": false, "zero": false}, "axis": null},
                 "text": {"field": "label", "type": "nominal"}}},
   {"data": {"name": "xlabR"}, "mark": {"type": "text", "align": "center", "baseline": "middle", "font": "Liberation Sans", "fontSize": 8, "color": "#333"},
    "encoding": {"x": {"field": "t", "type": "quantitative", "scale": {"domain": [-2.306, 15.236], "nice": false, "zero": false}, "axis": null},
                 "y": {"datum": -112, "type": "quantitative", "scale": {"domain": [-124.5, 126.1], "nice": false, "zero": false}, "axis": null},
                 "text": {"field": "label", "type": "nominal"}}},
   {"data": {"values": [{"title": "Asymetrie sever-jih graf - CV (McIntoshovo číslo)"}]}, "mark": {"type": "text", "align": "left", "baseline": "middle", "font": "DejaVu Sans Mono", "fontSize": 11.5, "color": "#111"},
    "encoding": {"x": {"datum": -0.47, "type": "quantitative", "scale": {"domain": [-2.306, 15.236], "nice": false, "zero": false}, "axis": null},
                 "y": {"datum": 115, "type": "quantitative", "scale": {"domain": [-124.5, 126.1], "nice": false, "zero": false}, "axis": null},
                 "text": {"field": "title", "type": "nominal"}}},
   {"data": {"name": "yearsR"}, "mark": {"type": "text", "align": "left", "baseline": "middle", "font": "DejaVu Sans", "fontSize": 16, "color": "#111"},
    "encoding": {"x": {"field": "t", "type": "quantitative", "scale": {"domain": [-2.306, 15.236], "nice": false, "zero": false}, "axis": null},
                 "y": {"datum": 101, "type": "quantitative", "scale": {"domain": [-124.5, 126.1], "nice": false, "zero": false}, "axis": null},
                 "text": {"field": "year", "type": "nominal"}}}
  ]}
 ], "spacing": 23, "bounds": "flush"},
{"width": 952, "height": 106,
 "layer": [
  {"data": {"values": [{"k": 0}]},
   "mark": {"type": "rule", "color": "#222", "strokeWidth": 1.3},
   "encoding": {"x": {"datum": 2, "type": "quantitative", "scale": {"domain": [0, 952], "nice": false, "zero": false}, "axis": null},
                "x2": {"datum": 952},
                "y": {"datum": 75, "type": "quantitative", "scale": {"domain": [0, 106], "reverse": true, "nice": false, "zero": false}, "axis": null}}},
  {"data": {"values": [{"text": "Výroční zpráva - 2002"}]},
   "mark": {"type": "text", "align": "left", "baseline": "alphabetic", "font": "Liberation Serif", "fontSize": 21, "color": "#000"},
   "encoding": {"x": {"datum": 9, "type": "quantitative", "scale": {"domain": [0, 952], "nice": false, "zero": false}, "axis": null},
                "y": {"datum": 97, "type": "quantitative", "scale": {"domain": [0, 106], "reverse": true, "nice": false, "zero": false}, "axis": null},
                "text": {"field": "text", "type": "nominal"}}},
  {"data": {"values": [{"text": "strana 10"}]},
   "mark": {"type": "text", "align": "right", "baseline": "alphabetic", "font": "Liberation Serif", "fontSize": 21, "color": "#000"},
   "encoding": {"x": {"datum": 952, "type": "quantitative", "scale": {"domain": [0, 952], "nice": false, "zero": false}, "axis": null},
                "y": {"datum": 97, "type": "quantitative", "scale": {"domain": [0, 106], "reverse": true, "nice": false, "zero": false}, "axis": null},
                "text": {"field": "text", "type": "nominal"}}}
 ]}
]
}
